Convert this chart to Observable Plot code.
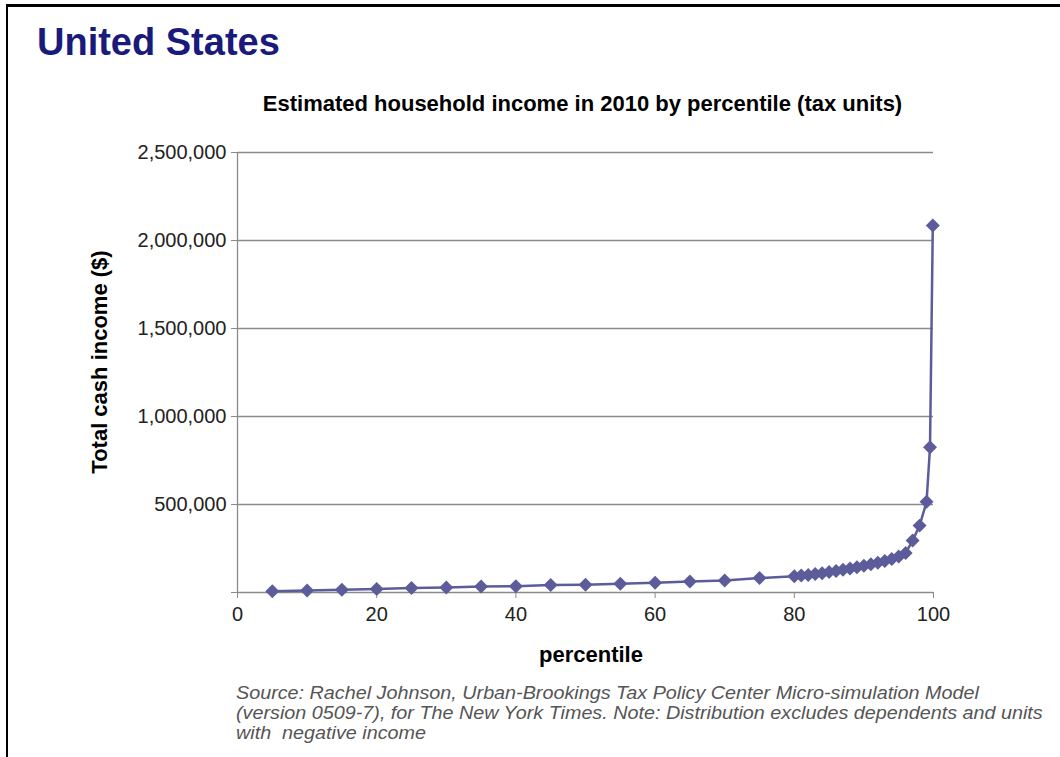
<!DOCTYPE html>
<html><head><meta charset="utf-8">
<script src="https://cdn.jsdelivr.net/npm/d3@7"></script>
<script src="https://cdn.jsdelivr.net/npm/@observablehq/plot@0.6"></script>
<style>
body{margin:0;background:#fff;font-family:"Liberation Sans",Arial,sans-serif;}
#page{position:relative;width:1060px;height:757px;overflow:hidden;background:#fff;}
.bt{position:absolute;left:6px;top:4px;width:1054px;height:3px;background:#000;z-index:5;}
.bl{position:absolute;left:6px;top:4px;width:2px;height:753px;background:#000;z-index:5;}
#title{position:absolute;left:37px;top:21px;font-size:38px;font-weight:bold;color:#1a1a7a;white-space:nowrap;}
#subtitle{position:absolute;left:0;width:1165px;top:91px;text-align:center;font-size:22px;font-weight:bold;color:#000;white-space:nowrap;}
#chart{position:absolute;left:0;top:130px;}
#ylabel{position:absolute;left:100px;top:362px;transform:translate(-50%,-50%) rotate(-90deg);font-size:22px;font-weight:bold;color:#000;white-space:nowrap;}
#xlabel{position:absolute;left:591px;top:655px;transform:translate(-50%,-50%);font-size:22px;font-weight:bold;color:#000;white-space:nowrap;}
#caption{position:absolute;left:236px;top:683px;font-style:italic;color:#555;font-size:19px;line-height:20px;white-space:nowrap;transform:scaleX(1.04);transform-origin:0 0;}
</style></head>
<body>
<div id="page">
  <div id="title">United States</div>
  <div id="subtitle">Estimated household income in 2010 by percentile (tax units)</div>
  <div id="chart"></div>
  <div id="ylabel">Total cash income ($)</div>
  <div id="xlabel">percentile</div>
  <div id="caption">Source: Rachel Johnson, Urban-Brookings Tax Policy Center Micro-simulation Model<br>(version 0509-7), for The New York Times. Note: Distribution excludes dependents and units<br>with&nbsp; negative income</div>
  <div class="bt"></div><div class="bl"></div>
</div>
<script>
const percentiles = [5,10,15,20,25,30,35,40,45,50,55,60,65,70,75,
  80,81,82,83,84,85,86,87,88,89,90,91,92,93,94,95,96,97,98,99,99.5,99.9];
const incomes = [7000,11000,16000,20000,25000,29000,34000,36000,42000,44000,50000,55000,62000,68000,82000,
  92000,96000,100000,105000,110000,116000,122000,129000,136000,144000,152000,160000,169000,179000,190000,205000,225000,
  295000,380000,515000,825000,2085000];
const yTicks = [0,500000,1000000,1500000,2000000,2500000];
const xTicks = [0,20,40,60,80,100];

const data = percentiles.map((p,i)=>({p, v: incomes[i]}));
const gray = "#8a8a8a";
const col = "#5c5c9a";
const plot = Plot.plot({
  width:1060, height:540,
  marginLeft:237, marginRight:127, marginTop:22, marginBottom:78,
  x:{domain:[0,100]},
  y:{domain:[0,2500000]},
  style:{fontFamily:"'Liberation Sans', Arial, sans-serif", fontSize:"20px", color:"#222", background:"transparent", overflow:"visible"},
  marks:[
    Plot.gridY(yTicks.slice(1), {stroke:gray, strokeOpacity:1, strokeWidth:1.3}),
    Plot.axisY(yTicks, {tickSize:6, tickPadding:5, stroke:gray, strokeOpacity:1,
      tickFormat: d => d === 0 ? "" : d3.format(",")(d), label:null}),
    Plot.axisX(xTicks, {tickSize:6, tickPadding:8, stroke:gray, strokeOpacity:1, label:null}),
    Plot.ruleX([0], {stroke:gray, strokeWidth:1.3}),
    Plot.ruleY([0], {stroke:gray, strokeWidth:1.3}),
    Plot.line(data, {x:"p", y:"v", stroke:col, strokeWidth:2.5}),
    Plot.dot(data, {x:"p", y:"v", symbol:"diamond2", r:6.3, fill:col, stroke:"none"})
  ]
});
document.getElementById("chart").appendChild(plot);
</script>
</body></html>
